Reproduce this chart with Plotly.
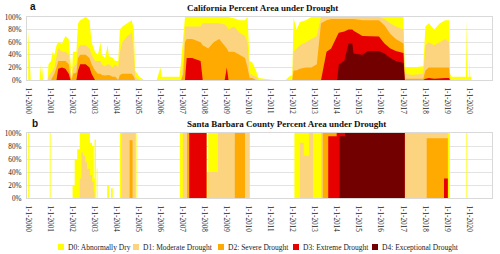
import plotly.graph_objects as go

# ---------------- data ----------------
series_names = ["D0: Abnormally Dry", "D1: Moderate Drought", "D2: Severe Drought",
                "D3: Extreme Drought", "D4: Exceptional Drought"]
series_colors = ["#FFFF00", "#FCD37F", "#FFAA00", "#E60000", "#730000"]

year_ticks = list(range(2000, 2021))
tick_dates = [f"{y}-01-01" for y in year_ticks]
tick_labels = [f"1-1-{y}" for y in year_ticks]
pct_ticks = [0, 20, 40, 60, 80, 100]
pct_labels = [f"{v}%" for v in pct_ticks]

# California, cumulative percent area (D0-D4, D1-D4, D2-D4, D3-D4, D4)
ca_dates = ["2000-01-04", "2000-01-25", "2000-02-15", "2000-07-11", "2000-07-25", "2000-08-08",
            "2000-08-22", "2000-09-05", "2000-11-21", "2000-12-05", "2001-01-16", "2001-02-13",
            "2001-03-13", "2001-04-17", "2001-05-15", "2001-07-17", "2001-09-11", "2001-11-06",
            "2001-12-04", "2001-12-25", "2002-01-15", "2002-03-12", "2002-04-09", "2002-05-14",
            "2002-08-13", "2002-10-15", "2002-11-19", "2003-01-14", "2003-03-04", "2003-04-15",
            "2003-05-06", "2003-07-01", "2003-08-12", "2003-09-02", "2003-11-04", "2003-12-16",
            "2004-02-03", "2004-03-02", "2004-04-13", "2004-07-06", "2004-09-14", "2004-10-19",
            "2004-11-09", "2005-01-18", "2005-04-05", "2005-11-01", "2005-11-15", "2006-01-03",
            "2006-01-24", "2006-11-14", "2006-12-12", "2007-01-16", "2007-02-13", "2007-03-13",
            "2007-06-12", "2007-10-30", "2007-12-04", "2008-03-04", "2008-06-03", "2008-09-02",
            "2008-12-02", "2009-01-06", "2009-02-03", "2009-05-05", "2009-08-04", "2009-11-03",
            "2009-12-15", "2010-01-19", "2010-03-02", "2010-05-04", "2010-06-15", "2011-03-01",
            "2011-09-06", "2011-11-01", "2011-12-27", "2012-01-17", "2012-03-06", "2012-05-01",
            "2012-08-07", "2012-11-06", "2013-02-05", "2013-04-16", "2013-07-16", "2013-10-01",
            "2014-01-07", "2014-02-04", "2014-05-06", "2014-07-15", "2014-09-16", "2014-10-07",
            "2015-03-03", "2015-06-02", "2015-12-01", "2016-03-01", "2016-06-07", "2016-09-06",
            "2017-01-10", "2017-01-31", "2017-06-06", "2017-12-05", "2018-01-09", "2018-03-06",
            "2018-06-05", "2018-09-04", "2018-12-04", "2019-02-05", "2019-02-19", "2019-03-19",
            "2019-11-12", "2019-11-26", "2019-12-10", "2020-01-07", "2020-01-14", "2020-01-21",
            "2020-02-11"]
ca_d0 = [80, 40, 0, 0, 25, 0, 22, 0, 0, 25, 30, 45,
         40, 55, 60, 58, 70, 65, 20, 5, 45, 45, 90, 95,
         100, 95, 60, 45, 40, 60, 40, 35, 55, 38, 35, 30,
         30, 80, 85, 90, 95, 80, 15, 5, 0, 0, 5, 20,
         5, 5, 30, 70, 100, 100, 100, 100, 100, 100, 100, 100,
         100, 100, 100, 98, 95, 95, 100, 30, 28, 15, 3, 0,
         0, 5, 8, 98, 80, 92, 95, 100, 100, 100, 100, 100,
         100, 100, 100, 100, 100, 100, 100, 100, 100, 100, 100, 100,
         100, 20, 20, 22, 85, 90, 80, 90, 95, 95, 10, 5,
         5, 95, 5, 5, 35, 5, 5]
ca_d1 = [0, 0, 0, 0, 0, 0, 0, 0, 0, 5, 10, 15,
         20, 35, 50, 45, 45, 40, 10, 0, 20, 25, 50, 55,
         55, 50, 40, 30, 30, 30, 25, 22, 25, 25, 20, 25,
         20, 45, 60, 70, 75, 40, 5, 0, 0, 0, 0, 0,
         0, 0, 0, 30, 85, 85, 85, 85, 90, 90, 90, 90,
         88, 85, 80, 85, 75, 70, 60, 10, 8, 5, 0, 0,
         0, 0, 0, 45, 50, 55, 60, 65, 70, 100, 100, 100,
         100, 100, 100, 100, 100, 100, 100, 100, 100, 97, 90, 85,
         80, 10, 8, 10, 55, 60, 55, 60, 65, 60, 3, 0,
         0, 0, 0, 0, 0, 0, 0]
ca_d2 = [0, 0, 0, 0, 0, 0, 0, 0, 0, 0, 0, 5,
         10, 20, 30, 30, 30, 25, 5, 0, 10, 12, 35, 40,
         40, 35, 25, 15, 10, 10, 8, 7, 8, 8, 5, 5,
         0, 8, 10, 10, 10, 5, 0, 0, 0, 0, 0, 0,
         0, 0, 0, 10, 60, 65, 65, 60, 55, 50, 60, 65,
         55, 50, 45, 45, 40, 35, 20, 3, 3, 0, 0, 0,
         0, 0, 0, 15, 15, 18, 20, 20, 25, 90, 95, 97,
         97, 97, 97, 97, 97, 97, 95, 95, 95, 87, 73, 65,
         58, 2, 2, 2, 15, 20, 20, 20, 20, 20, 0, 0,
         0, 0, 0, 0, 0, 0, 0]
ca_d3 = [0, 0, 0, 0, 0, 0, 0, 0, 0, 0, 0, 0,
         0, 0, 18, 20, 18, 10, 0, 0, 0, 0, 15, 25,
         25, 20, 10, 0, 0, 0, 0, 0, 0, 0, 0, 0,
         0, 0, 0, 0, 0, 0, 0, 0, 0, 0, 0, 0,
         0, 0, 0, 0, 0, 35, 35, 30, 0, 0, 0, 0,
         0, 20, 0, 0, 0, 0, 0, 0, 0, 0, 0, 0,
         0, 0, 0, 0, 0, 0, 0, 0, 0, 0, 45, 50,
         70, 75, 77, 80, 80, 78, 70, 70, 69, 58, 50, 46,
         43, 0, 0, 0, 2, 3, 2, 3, 3, 3, 0, 0,
         0, 0, 0, 0, 0, 0, 0]
ca_d4 = [0, 0, 0, 0, 0, 0, 0, 0, 0, 0, 0, 0,
         0, 0, 0, 0, 0, 0, 0, 0, 0, 0, 0, 0,
         0, 0, 0, 0, 0, 0, 0, 0, 0, 0, 0, 0,
         0, 0, 0, 0, 0, 0, 0, 0, 0, 0, 0, 0,
         0, 0, 0, 0, 0, 0, 0, 0, 0, 0, 0, 0,
         0, 0, 0, 0, 0, 0, 0, 0, 0, 0, 0, 0,
         0, 0, 0, 0, 0, 0, 0, 0, 0, 0, 0, 0,
         0, 25, 30, 58, 58, 42, 40, 46, 46, 42, 35, 30,
         27, 0, 0, 0, 0, 0, 0, 0, 0, 0, 0, 0,
         0, 0, 0, 0, 0, 0, 0]

# Santa Barbara County, cumulative percent area (value holds until next date)
sb_dates = ["2000-01-04", "2000-01-25", "2000-12-26", "2001-01-09", "2002-01-08", "2002-02-12",
            "2002-03-26", "2002-05-07", "2002-06-04", "2002-07-02", "2002-08-06", "2002-09-03",
            "2002-10-22", "2002-11-26", "2002-12-24", "2003-01-07", "2003-01-28", "2003-02-11",
            "2003-02-25", "2003-08-05", "2003-09-02", "2003-10-07", "2003-11-04", "2004-03-02",
            "2004-03-30", "2004-08-10", "2004-09-28", "2004-11-16", "2004-11-30", "2004-12-07",
            "2004-12-14", "2006-11-21", "2007-01-09", "2007-03-20", "2007-04-24", "2008-02-05",
            "2008-03-04", "2008-08-12", "2009-05-19", "2009-11-03", "2010-01-19", "2012-01-31",
            "2012-05-01", "2012-07-03", "2012-10-02", "2012-12-04", "2013-04-16", "2013-05-14",
            "2013-08-13", "2013-12-31", "2014-02-18", "2014-05-20", "2017-01-31", "2018-01-30",
            "2018-11-13", "2019-01-15", "2019-02-19", "2019-11-19", "2019-12-03", "2020-02-11"]
sb_d0 = [100, 0, 100, 0, 20, 60,
         75, 100, 100, 100, 100, 100,
         85, 80, 30, 90, 0, 45,
         0, 20, 0, 15, 0, 100,
         100, 100, 100, 100, 0, 100,
         0, 100, 100, 100, 100, 40,
         100, 100, 100, 100, 0, 100,
         100, 100, 100, 100, 100, 100,
         100, 100, 100, 100, 100, 100,
         100, 100, 0, 100, 0, 0]
sb_d1 = [0, 0, 0, 0, 0, 0,
         0, 30, 70, 65, 55, 45,
         35, 25, 10, 0, 0, 0,
         0, 0, 0, 0, 0, 0,
         100, 100, 100, 0, 0, 0,
         0, 0, 100, 100, 100, 0,
         40, 100, 100, 100, 0, 0,
         85, 65, 100, 0, 100, 100,
         100, 100, 100, 100, 100, 100,
         100, 0, 0, 0, 0, 0]
sb_d2 = [0, 0, 0, 0, 0, 0,
         0, 0, 0, 0, 0, 0,
         0, 0, 0, 0, 0, 0,
         0, 0, 0, 0, 0, 0,
         0, 89, 0, 0, 0, 0,
         0, 0, 0, 100, 100, 0,
         0, 0, 100, 0, 0, 0,
         0, 0, 0, 0, 0, 100,
         100, 100, 100, 100, 0, 92,
         92, 0, 0, 0, 0, 0]
sb_d3 = [0, 0, 0, 0, 0, 0,
         0, 0, 0, 0, 0, 0,
         0, 0, 0, 0, 0, 0,
         0, 0, 0, 0, 0, 0,
         0, 0, 0, 0, 0, 0,
         0, 0, 0, 0, 100, 0,
         0, 0, 0, 0, 0, 0,
         0, 0, 0, 0, 0, 0,
         95, 100, 100, 100, 0, 0,
         30, 0, 0, 0, 0, 0]
sb_d4 = [0, 0, 0, 0, 0, 0,
         0, 0, 0, 0, 0, 0,
         0, 0, 0, 0, 0, 0,
         0, 0, 0, 0, 0, 0,
         0, 0, 0, 0, 0, 0,
         0, 0, 0, 0, 0, 0,
         0, 0, 0, 0, 0, 0,
         0, 0, 0, 0, 0, 0,
         0, 0, 95, 100, 0, 0,
         0, 0, 0, 0, 0, 0]

ca_values = [ca_d0, ca_d1, ca_d2, ca_d3, ca_d4]
sb_values = [sb_d0, sb_d1, sb_d2, sb_d3, sb_d4]

# ---------------- figure ----------------
W, H = 500, 254
ML, MR = 27, 8
PW = W - ML - MR


def px_x(p):
    return (p - ML) / PW


def px_y(p):
    return 1 - p / H


fig = go.Figure()
for vals, color, name in zip(ca_values, series_colors, series_names):
    fig.add_trace(go.Scatter(x=ca_dates, y=vals, mode="lines", name=name,
                             line=dict(width=0, color=color, shape="linear"),
                             fill="tozeroy", fillcolor=color, showlegend=False,
                             xaxis="x", yaxis="y", hoverinfo="skip"))
for vals, color, name in zip(sb_values, series_colors, series_names):
    fig.add_trace(go.Scatter(x=sb_dates, y=vals, mode="lines", name=name,
                             line=dict(width=0, color=color, shape="hv"),
                             fill="tozeroy", fillcolor=color, showlegend=False,
                             xaxis="x2", yaxis="y2", hoverinfo="skip"))

tick_font = dict(family="Liberation Serif, Times New Roman, serif", size=7.2, color="#1a1a1a")
xcommon = dict(type="date", range=["1999-12-15", "2021-01-16"], tickmode="array",
               tickvals=tick_dates, ticktext=tick_labels, tickangle=90, tickfont=tick_font,
               showgrid=False, showline=True, linecolor="#d9d9d9", linewidth=1, mirror=True,
               ticks="", ticklabelstandoff=5, zeroline=False, fixedrange=True, automargin=False)
ycommon = dict(range=[0, 100], tickmode="array", tickvals=pct_ticks, ticktext=pct_labels,
               tickfont=tick_font, showgrid=True, gridcolor="#e3e3e3", gridwidth=1,
               showline=True, linecolor="#d9d9d9", linewidth=1, mirror=True, ticks="",
               zeroline=False, fixedrange=True, ticklabelstandoff=3, automargin=False)

fig.update_layout(
    width=W, height=H, margin=dict(l=ML, r=MR, t=0, b=0),
    paper_bgcolor="white", plot_bgcolor="white",
    xaxis=dict(xcommon, domain=[0, 1], anchor="y"),
    yaxis=dict(ycommon, domain=[px_y(80), px_y(17)], anchor="x"),
    xaxis2=dict(xcommon, domain=[0, 1], anchor="y2"),
    yaxis2=dict(ycommon, domain=[px_y(198), px_y(133)], anchor="x2"),
    showlegend=False,
)

title_font = dict(family="Liberation Serif, Times New Roman, serif", size=9, color="#111111")
letter_font = dict(family="Liberation Sans, Arial, sans-serif", size=10, color="#111111")
annotations = [
    dict(text="<b>California Percent Area under Drought</b>", x=px_x(185), y=px_y(8),
         xref="paper", yref="paper", xanchor="left", yanchor="middle",
         showarrow=False, font=title_font),
    dict(text="<b>Santa Barbara County Percent Area under Drought</b>", x=px_x(185), y=px_y(124),
         xref="paper", yref="paper", xanchor="left", yanchor="middle",
         showarrow=False, font=title_font),
    dict(text="<b>a</b>", x=px_x(28), y=px_y(7), xref="paper", yref="paper",
         xanchor="left", yanchor="middle", showarrow=False, font=letter_font),
    dict(text="<b>b</b>", x=px_x(30), y=px_y(123), xref="paper", yref="paper",
         xanchor="left", yanchor="middle", showarrow=False, font=letter_font),
]

# manual legend row
legend_font = dict(family="Liberation Serif, Times New Roman, serif", size=7.5, color="#222222")
legend_x = [58, 133, 218, 293, 372]
legend_y = 247
shapes = []
for lx, color, name in zip(legend_x, series_colors, series_names):
    shapes.append(dict(type="rect", xref="paper", yref="paper",
                       x0=px_x(lx), x1=px_x(lx + 6), y0=px_y(legend_y + 3), y1=px_y(legend_y - 3),
                       fillcolor=color, line=dict(width=0)))
    annotations.append(dict(text=name, x=px_x(lx + 8), y=px_y(legend_y), xref="paper",
                            yref="paper", xanchor="left", yanchor="middle", showarrow=False,
                            font=legend_font))

fig.update_layout(annotations=annotations, shapes=shapes)
fig.write_html("out.html", config={"displayModeBar": False},
               post_script="document.body.style.margin='0';document.body.style.overflow='hidden';")
